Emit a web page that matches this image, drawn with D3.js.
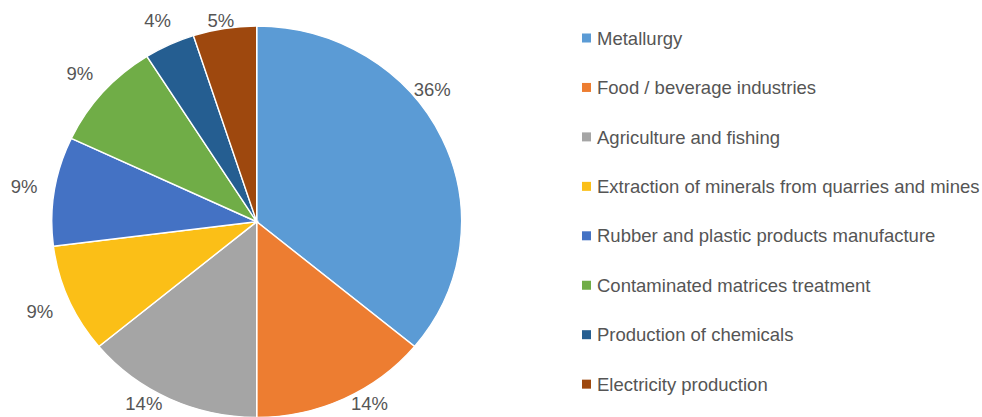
<!DOCTYPE html>
<html>
<head>
  <meta http-equiv="Content-Type" content="text/html; charset=UTF-8">
  <script src="https://d3js.org/d3.v7.min.js"></script>
  <style>
    body { margin:0; background:#fff; }
    text { font-family: "Liberation Sans", Arial, sans-serif; }
  </style>
</head>
<body>
  <svg width="982" height="417"></svg>
  <script>
    // sectors, shares (%) and colours
    var sectors = [
      "Metallurgy",
      "Food / beverage industries",
      "Agriculture and fishing",
      "Extraction of minerals from quarries and mines",
      "Rubber and plastic products manufacture",
      "Contaminated matrices treatment",
      "Production of chemicals",
      "Electricity production"
    ];
    var shares = [36, 14, 14, 9, 9, 9, 4, 5];
    var colors = ["#5b9bd5", "#ed7d31", "#a5a5a5", "#fbbf17", "#4472c4", "#70ad47", "#255e91", "#9e480e"];

    var width = 982, height = 417;
    var cx = 256.7, cy = 221.7,
        r = 195.7,
        sx = 1.047;            // the picture's pie is a little wider than tall
    var fontSize = 18.5, textColor = "#555555";

    var data = sectors.map(function(s, i) { return { name: s, value: shares[i], color: colors[i] }; });

    var pie = d3.pie().sort(null).value(function(d) { return d.value; });
    var arcs = pie(data);
    var arc = d3.arc().innerRadius(0).outerRadius(r);

    var svg = d3.select("svg");

    svg.append("g")
        .attr("transform", "translate(" + cx + "," + cy + ") scale(" + sx + ",1)")
      .selectAll("path")
      .data(arcs)
      .enter().append("path")
        .attr("d", arc)
        .attr("fill", function(d) { return d.data.color; })
        .attr("stroke", "#fff")
        .attr("stroke-width", 1.4)
        .attr("vector-effect", "non-scaling-stroke");

    // outside-end labels, kept inside the chart area like the original
    var pad = 15, halfH = 6.6, yMin = 20, yMax = 403;
    var nudge = { "Metallurgy": { a: -13 * Math.PI / 180, r: -16 } };

    var labels = svg.append("g");
    arcs.forEach(function(d) {
      var txt = d3.format(".0f")(d.data.value) + "%";
      var t = labels.append("text")
          .attr("text-anchor", "middle")
          .attr("dy", "0.36em")
          .attr("font-size", fontSize)
          .attr("fill", textColor)
          .text(txt);
      var halfW = t.node().getComputedTextLength() / 2;
      var n = nudge[d.data.name] || { a: 0, r: 0 };
      var a = (d.startAngle + d.endAngle) / 2 + n.a;
      var s = Math.sin(a), c = Math.cos(a);
      var dist = r + pad + Math.abs(s) * halfW + Math.abs(c) * halfH + n.r;
      var x = cx + dist * s * sx,
          y = cy - dist * c;
      if (y < yMin || y > yMax) {
        y = Math.max(yMin, Math.min(yMax, y));
        // slide sideways so the box clears the pie edge
        var inner = y < cy ? y + halfH : y - halfH;
        var dy = Math.min(Math.abs(inner - cy), r);
        var hw = r * sx * Math.sqrt(1 - (dy / r) * (dy / r));
        if (s >= 0) x = Math.max(x, cx + hw + halfW + 2);
        else x = Math.min(x, cx - hw - halfW - 2);
      }
      t.attr("x", x).attr("y", y);
    });

    // legend
    var legend = svg.append("g").attr("transform", "translate(582,38)");
    var row = legend.selectAll("g")
        .data(data)
      .enter().append("g")
        .attr("transform", function(d, i) { return "translate(0," + (i * 49.45) + ")"; });

    row.append("rect")
        .attr("x", 0).attr("y", -4.5)
        .attr("width", 9).attr("height", 9)
        .attr("fill", function(d) { return d.color; });

    row.append("text")
        .attr("x", 15)
        .attr("dy", "0.36em")
        .attr("font-size", fontSize)
        .attr("fill", textColor)
        .text(function(d) { return d.name; });
  </script>
</body>
</html>
